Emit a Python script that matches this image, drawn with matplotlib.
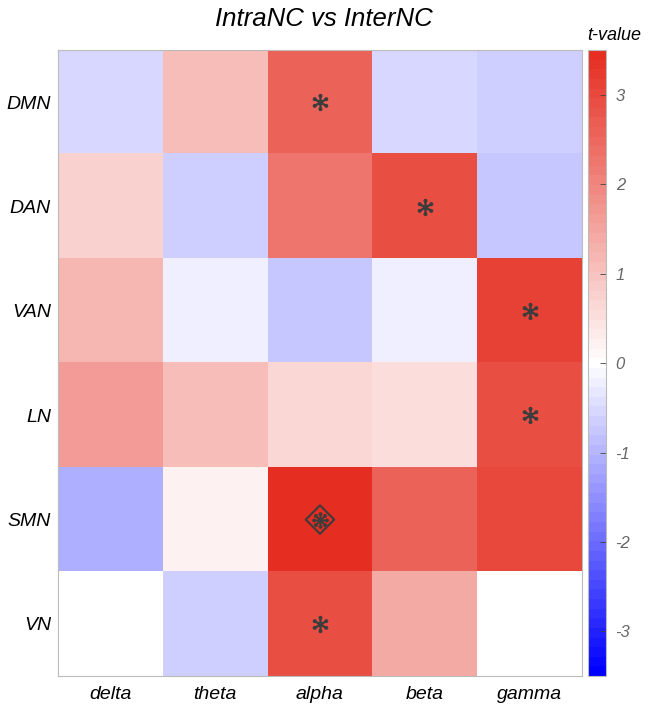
import numpy as np
import matplotlib
matplotlib.use("Agg")
import matplotlib.pyplot as plt
from matplotlib.colors import LinearSegmentedColormap
from matplotlib.path import Path

networks = ["DMN", "DAN", "VAN", "LN", "SMN", "VN"]
bands = ["delta", "theta", "alpha", "beta", "gamma"]

t_dmn = [-0.5, 1.05, 2.6, -0.5, -0.6]
t_dan = [0.8, -0.6, 2.3, 2.9, -0.75]
t_van = [1.2, -0.25, -0.75, -0.25, 3.1]
t_ln = [1.6, 1.05, 0.67, 0.55, 2.9]
t_smn = [-1.05, 0.17, 3.4, 2.6, 3.05]
t_vn = [0.0, -0.6, 2.9, 1.45, 0.0]

# significance: 1 = asterisk, 2 = asterisk in diamond
sig_dmn = [0, 0, 1, 0, 0]
sig_dan = [0, 0, 0, 1, 0]
sig_van = [0, 0, 0, 0, 1]
sig_ln = [0, 0, 0, 0, 1]
sig_smn = [0, 0, 2, 0, 0]
sig_vn = [0, 0, 1, 0, 0]

cbar_ticks = [-3, -2, -1, 0, 1, 2, 3]
vlim = 3.5

T = np.array([t_dmn, t_dan, t_van, t_ln, t_smn, t_vn])
S = np.array([sig_dmn, sig_dan, sig_van, sig_ln, sig_smn, sig_vn])

cmap = LinearSegmentedColormap.from_list(
    "bwr_m", [(0.0, 0.0, 1.0), (1.0, 1.0, 1.0), (0.90, 0.18, 0.13)], N=65)

plt.rcParams['font.family'] = ['Liberation Sans', 'DejaVu Sans']
plt.rcParams['axes.unicode_minus'] = False

DOT_R = 0.3


def dots_marker(n):
    ang = np.pi / 2 + np.arange(n) * 2 * np.pi / n
    paths = [Path.circle((np.cos(a), np.sin(a)), DOT_R) for a in ang]
    return Path.make_compound_path(*paths)


def spokes_marker(n):
    verts, codes = [], []
    for k in range(n):
        a = np.pi / 2 + k * 2 * np.pi / n
        verts += [(0, 0), (np.cos(a), np.sin(a))]
        codes += [Path.MOVETO, Path.LINETO]
    return Path(verts, codes)


def draw_star(ax, x, y, n, width_pt, lw):
    s_d = width_pt ** 2
    s_sp = s_d / (1 + DOT_R) ** 2
    ax.scatter(x, y, marker=spokes_marker(n), s=s_sp, color=mk_col,
               linewidths=lw, zorder=3)
    ax.scatter(x, y, marker=dots_marker(n), s=s_d, color=mk_col,
               linewidths=0, zorder=3)


mk_col = '#3c3c3c'

fig = plt.figure(figsize=(6.48, 7.05), dpi=100)
ax = fig.add_axes([0.0895, 0.041, 0.8086, 0.888])
cax = fig.add_axes([0.907, 0.041, 0.028, 0.888])

im = ax.imshow(T, cmap=cmap, vmin=-vlim, vmax=vlim, aspect='auto',
               interpolation='nearest')

rows, cols = np.nonzero(S)
for r, c in zip(rows, cols):
    if S[r, c] == 1:
        draw_star(ax, c, r, 6, 12.5, 1.7)
    else:
        draw_star(ax, c, r, 8, 12.0, 1.4)
        ax.scatter(c, r, marker='D', s=210, facecolors='none',
                   edgecolors=mk_col, linewidths=1.5, zorder=3)

ax.set_xticks(range(len(bands)))
ax.set_xticklabels(bands, fontsize=14, style='italic')
ax.set_yticks(range(len(networks)))
ax.set_yticklabels(networks, fontsize=14, style='italic')
ax.tick_params(axis='x', length=0, pad=7)
ax.tick_params(axis='y', length=0, pad=5)
for sp in ax.spines.values():
    sp.set_color('#bbbbbb')
    sp.set_linewidth(0.8)

cb = fig.colorbar(im, cax=cax, ticks=cbar_ticks)
cb.outline.set_edgecolor('#bbbbbb')
cb.outline.set_linewidth(0.8)
cax.tick_params(direction='in', length=4, width=0.6, color='#444444',
                labelsize=12, labelcolor='#666666', pad=7)
for lab in cax.get_yticklabels():
    lab.set_style('italic')

fig.text(0.5, 0.973, "IntraNC vs InterNC", ha='center', va='center',
         fontsize=18.5, style='italic')
fig.text(0.948, 0.950, "t-value", ha='center', va='center',
         fontsize=13, style='italic')

fig.savefig("out.png", dpi=100)
